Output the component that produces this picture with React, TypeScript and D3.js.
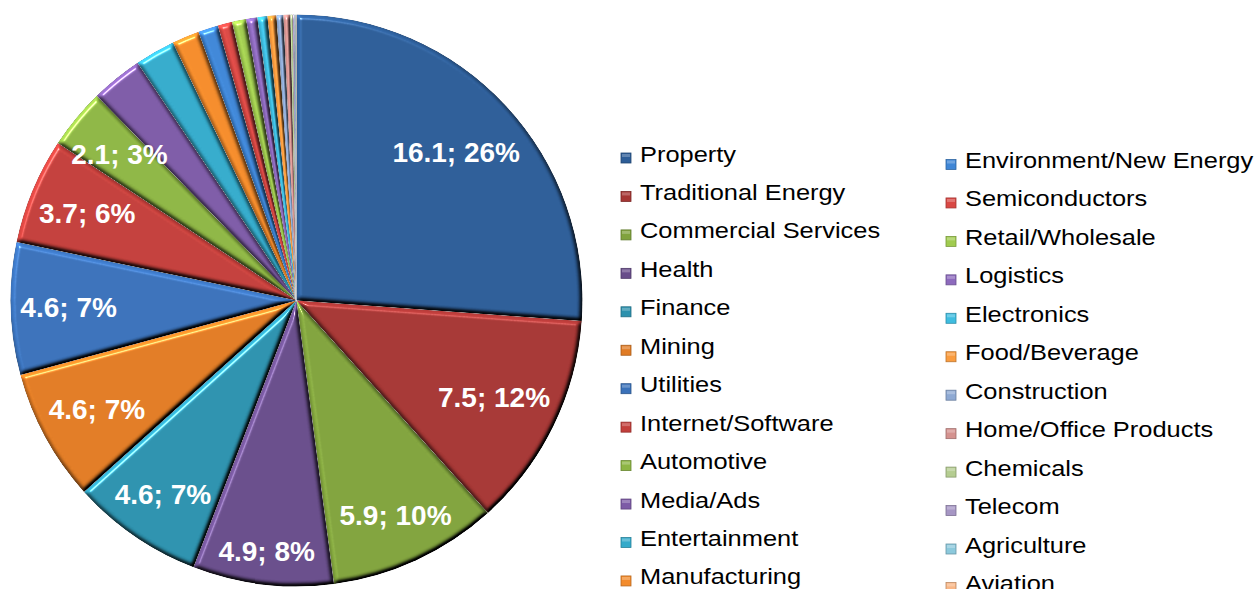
import React, { useEffect, useRef } from "react";
import * as d3 from "d3";

const categories = [
  "Property", "Traditional Energy", "Commercial Services", "Health", "Finance", "Mining",
  "Utilities", "Internet/Software", "Automotive", "Media/Ads", "Entertainment", "Manufacturing",
  "Environment/New Energy", "Semiconductors", "Retail/Wholesale", "Logistics", "Electronics", "Food/Beverage",
  "Construction", "Home/Office Products", "Chemicals", "Telecom", "Agriculture", "Aviation",
];
const values = [
  16.1, 7.5, 5.9, 4.9, 4.6, 4.6,
  4.6, 3.7, 2.1, 1.8, 1.4, 0.95,
  0.7, 0.5, 0.49, 0.39, 0.35, 0.31,
  0.24, 0.24, 0.08, 0.06, 0.04, 0.03,
];
const labelTexts = ["16.1; 26%", "7.5; 12%", "5.9; 10%", "4.9; 8%", "4.6; 7%", "4.6; 7%", "4.6; 7%", "3.7; 6%", "2.1; 3%"];
const colors = [
  "#2D5D97", "#A53634", "#80A23D", "#684D8A", "#2C91AD", "#E07B24",
  "#3A71B9", "#C23F3B", "#8DB544", "#7D5BA6", "#34AACA", "#F38B2B",
  "#3F86D6", "#D94844", "#A0CB4F", "#8D6ABD", "#3FBDE0", "#FA9C3F",
  "#8EA9D3", "#D4928F", "#B5CD91", "#A696C4", "#8CC9DC", "#F9B787",
];

const W = 1255, H = 589;
const CX = 296.5, CY = 300.5, R = 286;

export default function App() {
  const ref = useRef<SVGSVGElement>(null);
  useEffect(() => {
    const svg = d3.select(ref.current);
    svg.selectAll("*").remove();
    const defs = svg.append("defs");
    const f = defs.append("filter").attr("id", "bevel").attr("x", "-5%").attr("y", "-5%").attr("width", "110%").attr("height", "110%")
      .attr("color-interpolation-filters", "sRGB");
    f.append("feGaussianBlur").attr("in", "SourceAlpha").attr("stdDeviation", 2.2).attr("result", "blur");
    const spec = f.append("feSpecularLighting").attr("in", "blur").attr("surfaceScale", 4)
      .attr("specularConstant", 0.8).attr("specularExponent", 60).attr("lighting-color", "#ffffff").attr("result", "spec");
    spec.append("feDistantLight").attr("azimuth", 235).attr("elevation", 50);
    f.append("feComposite").attr("in", "spec").attr("in2", "SourceAlpha").attr("operator", "in").attr("result", "specOut");
    const diff = f.append("feDiffuseLighting").attr("in", "blur").attr("surfaceScale", 4)
      .attr("diffuseConstant", 1).attr("lighting-color", "#ffffff").attr("result", "diff");
    diff.append("feDistantLight").attr("azimuth", 235).attr("elevation", 50);
    f.append("feComposite").attr("in", "SourceGraphic").attr("in2", "diff").attr("operator", "arithmetic")
      .attr("k1", 1.3).attr("k2", 0).attr("k3", 0).attr("k4", 0).attr("result", "lit");
    f.append("feComposite").attr("in", "lit").attr("in2", "specOut").attr("operator", "arithmetic")
      .attr("k1", 0).attr("k2", 1).attr("k3", 0.7).attr("k4", 0).attr("result", "out");
    f.append("feComposite").attr("in", "out").attr("in2", "SourceAlpha").attr("operator", "in");

    const data = categories.map((c, i) => ({ name: c, value: values[i], color: colors[i], label: labelTexts[i] }));
    const pie = d3.pie<any>().value((d) => d.value).sort(null).startAngle(0).endAngle(2 * Math.PI);
    const arcs = pie(data);
    const arc = d3.arc<any>().innerRadius(0).outerRadius(R);

    const g = svg.append("g").attr("transform", `translate(${CX},${CY})`);
    g.selectAll("path.slice").data(arcs).enter().append("path")
      .attr("class", "slice")
      .attr("d", arc as any)
      .attr("fill", (d: any) => d.data.color)
      .attr("filter", "url(#bevel)");

    const lg = g.append("g");
    arcs.forEach((a: any) => {
      if (!a.data.label) return;
      const t = lg.append("text").text(a.data.label)
        .attr("font-family", "Arial, 'Liberation Sans', sans-serif")
        .attr("font-weight", "bold").attr("font-size", 28).attr("fill", "#fff")
        .attr("text-anchor", "middle");
      const w = (t.node() as SVGTextElement).getComputedTextLength();
      const hh = 15, hw = w / 2;
      const mid = (a.startAngle + a.endAngle) / 2;
      const ux = Math.sin(mid), uy = -Math.cos(mid);
      const lim = R - 9;
      let lo = 0, hi = R;
      for (let k = 0; k < 40; k++) {
        const d = (lo + hi) / 2;
        const cx = ux * d, cy = uy * d;
        let ok = true;
        for (const sx of [-1, 1]) for (const sy of [-1, 1]) {
          const px = cx + sx * hw, py = cy + sy * hh;
          if (Math.hypot(px, py) > lim) ok = false;
        }
        if (ok) lo = d; else hi = d;
      }
      t.attr("x", ux * lo).attr("y", uy * lo + 10);
    });

    const leg = svg.append("g");
    const per = 12;
    data.forEach((d, i) => {
      const col = Math.floor(i / per), row = i % per;
      const mx = col === 0 ? 621 : 946;
      const by = (col === 0 ? 161.5 : 168) + row * 38.45;
      leg.append("rect").attr("x", mx).attr("y", by - 8.5).attr("width", 10).attr("height", 10)
        .attr("fill", d.color).attr("stroke", d3.color(d.color)!.darker(0.8).toString()).attr("stroke-width", 0.8);
      leg.append("rect").attr("x", mx + 1).attr("y", by - 7.5).attr("width", 8).attr("height", 3)
        .attr("fill", "#fff").attr("opacity", 0.25);
      leg.append("text").text(d.name)
        .attr("transform", `translate(${mx + 19},${by}) scale(1.13,1)`)
        .attr("font-family", "Arial, 'Liberation Sans', sans-serif")
        .attr("font-size", 22.5).attr("fill", "#000");
    });
  }, []);
  return (
    <svg ref={ref} width={W} height={H} style={{ position: "absolute", left: 0, top: 0, background: "#fff" }} />
  );
}
